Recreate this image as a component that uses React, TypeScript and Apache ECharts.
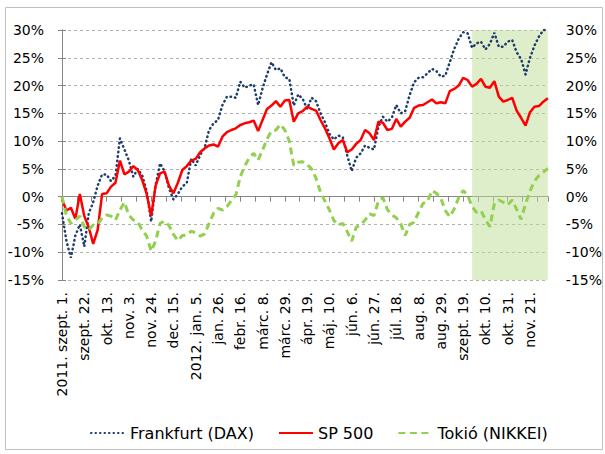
import React, { useEffect, useRef } from "react";
import * as echarts from "echarts";

// Tick labels: every 15 trading days starting at 2011-09-01
const tickLabels = [
  "2011. szept. 1.", "szept. 22.", "okt. 13.", "nov. 3.", "nov. 24.", "dec. 15.",
  "2012. jan. 5.", "jan. 26.", "febr. 16.", "márc. 8.", "márc. 29.", "ápr. 19.",
  "máj. 10.", "jún. 6.", "jún. 27.", "júl. 18.", "aug. 8.", "aug. 29.",
  "szept. 19.", "okt. 10.", "okt. 31.", "nov. 21.",
];
const LABEL_EVERY_DAYS = 15;
const TICK_EVERY_DAYS = 10;
const DAY_STEP = 3; // one reading every 3 trading days
const LAST_DAY = 327;
const SHADE_START_DAY = 276;

const seriesNames = ["Frankfurt (DAX)", "SP 500", "Tokió (NIKKEI)"];

// Cumulative change, %
const dax = [
  -3, -8, -11, -7, -5, -9, -3, -1, 2, 4,
  4, 2.8, 3.8, 10.5, 8.5, 6.5, 3.6, 5, 3.8, 1,
  -4.5, 2, 6, 4.6, 1.5, -0.5, 0.5, 1.8, 2.5, 6.8,
  5.6, 7.5, 8.8, 12, 13.2, 13.8, 16.5, 18, 18, 17.8,
  20.7, 19.6, 20, 20.2, 16.5, 19.5, 22, 24.2, 22.8, 23.1,
  21.5, 21.2, 16.4, 18.4, 17.6, 15.8, 17.8, 17.2, 15, 13.4,
  11.3, 10.3, 11, 10.7, 7.4, 4.6, 7, 7.8, 9.2, 8.8,
  8.5, 12.6, 14.4, 13.5, 14.2, 16.5, 15, 15.4, 18.3, 20.6,
  21.4, 21.5, 22.2, 23, 22.6, 21.6, 21.8, 24.2, 26.6, 28.4,
  29.6, 29.4, 26.8, 27.6, 27.9, 26.5, 27.5, 29.5, 27, 27,
  27.9, 28.2, 26, 24.8, 22, 25, 27.2, 28.8, 30, 30,
];
const sp500 = [
  -0.5, -2.5, -2, -4, 0.5, -3.5, -5.5, -8.5, -6, 0.5,
  0.6, 1.8, 2.5, 6.5, 4, 4.5, 5.5, 4.8, 3, 0.5,
  -3.5, 2, 4.2, 4.5, 2, 0.6, 2.5, 4.8, 5.5, 6.5,
  6.8, 8, 8.7, 9.2, 9.4, 9, 10.8, 11.6, 12, 12.3,
  12.9, 13.2, 13.4, 13.7, 11.8, 13.8, 15.8, 16.4, 17.2, 16.2,
  17.3, 17.4, 13.5, 15, 15.4, 16.2, 15.8, 15.5, 13.8, 12.3,
  10.5, 8.5, 9.6, 10.2, 8, 8.5, 9.5, 10.2, 12, 11.4,
  10.2, 13.5, 13.3, 12, 12.2, 14, 12.6, 13.5, 14.2, 16,
  16.4, 16.5, 17, 17.5, 16.8, 17, 16.8, 19, 19.4, 20,
  21.4, 21, 19.8, 20.3, 21.2, 19.8, 19.6, 20.8, 18, 17.1,
  17.4, 17.8, 15.5, 14.2, 12.8, 15.2, 16.2, 16.3, 17.1, 17.7,
];
const nikkei = [
  0, -3.4, -4.8, -4.2, -3.5, -5.4, -6, -5.1, -5, -3.8,
  -3.3, -3.5, -4.2, -2.4, -1, -3.3, -4.2, -4.6, -6, -7.1,
  -9.8, -8, -4.8, -4.4, -5.2, -6.8, -7.9, -7, -6.9, -6.2,
  -6.5, -7.1, -6.7, -4.8, -3, -2.1, -2.4, -1.8, -0.7, 0.3,
  3.6, 5.5, 7, 7.8, 6.6, 8.4, 10.4, 11.8, 12, 13,
  12, 10, 5.6, 6.2, 6.3, 5.8, 5, 3.3, 0.8, -0.8,
  -2.4, -4.3, -5.1, -4.8, -6.3, -8, -5.5, -5.1, -4.2, -3.1,
  -3.4, -0.8, -0.2, -2.3, -3.3, -3.8, -4.9, -7, -5, -4.6,
  -2.8, -1.2, -0.9, 1.1, 0.6, -0.3, -2.5, -3.6, -2.2, -0.2,
  1.1, 0.3, -1.8, -2.8, -2.5, -4.1, -5.4, -1.3, -0.6, -1,
  -1.5, -0.6, -2.3, -4.1, -1.3, 1, 2.8, 3.8, 4.4, 5.1,
];

const Y_MIN = -15;
const Y_MAX = 30;
const Y_STEP = 5;

const toPoints = (vals: number[]) => vals.map((v, k) => [k * DAY_STEP, v]);

export default function App() {
  const ref = useRef<HTMLDivElement>(null);

  useEffect(() => {
    if (!ref.current) return;
    const chart = echarts.init(ref.current, null, { renderer: "svg" });
    const font = "DejaVu Sans";
    const axisColor = "#868686";

    const yBase: any = {
      type: "value",
      min: Y_MIN,
      max: Y_MAX,
      interval: Y_STEP,
      axisLine: { show: true, lineStyle: { color: axisColor, width: 1 } },
      axisTick: { show: true, length: 4, lineStyle: { color: axisColor } },
      axisLabel: {
        formatter: (v: number) => `${v}%`,
        color: "#000",
        fontSize: 14,
        fontFamily: font,
        margin: 18,
      },
    };

    chart.setOption({
      animation: false,
      textStyle: { fontFamily: font },
      graphic: [
        {
          type: "rect",
          shape: { x: 5.5, y: 7.5, width: 597, height: 442 },
          style: { fill: "none", stroke: "#c0c0c0", lineWidth: 1 },
          silent: true,
        },
      ],
      grid: { left: 62, right: 55, top: 30, bottom: 174 },
      legend: {
        data: seriesNames,
        left: 90,
        top: 425,
        itemWidth: 34,
        itemHeight: 16,
        itemGap: 24,
        padding: 0,
        itemStyle: { opacity: 0 },
        textStyle: { fontSize: 16, color: "#000", fontFamily: font },
      },
      xAxis: [
        {
          type: "value",
          min: 0,
          max: LAST_DAY,
          interval: LABEL_EVERY_DAYS,
          position: "bottom",
          axisLine: { show: false, onZero: false },
          axisTick: { show: false },
          splitLine: { show: false },
          axisLabel: {
            rotate: 90,
            margin: 12,
            fontSize: 14,
            fontFamily: font,
            color: "#000",
            showMaxLabel: false,
            formatter: (v: number) => {
              const i = v / LABEL_EVERY_DAYS;
              return Number.isInteger(i) && tickLabels[i] ? tickLabels[i] : "";
            },
          },
        },
        {
          type: "value",
          min: 0,
          max: LAST_DAY,
          interval: TICK_EVERY_DAYS,
          position: "top",
          axisLine: { show: true, onZero: true, lineStyle: { color: axisColor, width: 1 } },
          axisTick: { show: true, inside: true, length: 5, lineStyle: { color: axisColor } },
          axisLabel: { show: false },
          splitLine: { show: false },
        },
      ],
      yAxis: [
        {
          ...yBase,
          position: "left",
          splitLine: { show: true, lineStyle: { color: "#b0b0b0", type: [3, 3], width: 1 } },
        },
        { ...yBase, position: "right", splitLine: { show: false } },
      ],
      series: [
        {
          name: seriesNames[0],
          type: "line",
          data: toPoints(dax),
          symbol: "none",
          lineStyle: { color: "#1F3D6B", width: 2.5, type: [0.5, 4], cap: "round" },
          itemStyle: { color: "#1F3D6B" },
          markArea: {
            silent: true,
            itemStyle: { color: "rgba(190,222,150,0.5)" },
            data: [[{ xAxis: SHADE_START_DAY }, { xAxis: LAST_DAY }]],
          },
        },
        {
          name: seriesNames[1],
          type: "line",
          data: toPoints(sp500),
          symbol: "none",
          lineStyle: { color: "#FF0000", width: 2.5 },
          itemStyle: { color: "#FF0000" },
        },
        {
          name: seriesNames[2],
          type: "line",
          data: toPoints(nikkei),
          symbol: "none",
          lineStyle: { color: "#92D050", width: 3, type: [7, 4.5] },
          itemStyle: { color: "#92D050" },
        },
      ],
    });

    return () => chart.dispose();
  }, []);

  return (
    <div
      ref={ref}
      style={{ position: "absolute", left: 0, top: 0, width: 605, height: 454, background: "#fff" }}
    />
  );
}
